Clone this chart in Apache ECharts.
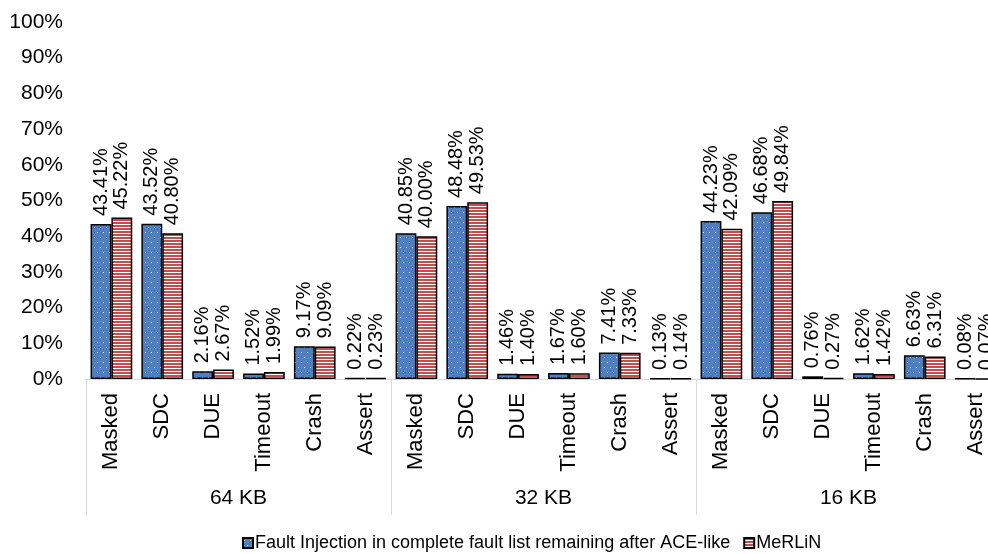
<!DOCTYPE html>
<html>
<head>
<meta charset="utf-8">
<script src="https://cdn.jsdelivr.net/npm/echarts@6/dist/echarts.min.js"></script>
<style>
  html, body { margin: 0; padding: 0; background: #fff; }
  #chart { width: 988px; height: 554px; }
</style>
</head>
<body>
<div id="chart"></div>
<script>
// Outcome classes per cache size (inner axis) and cache sizes (outer axis)
const outcomes = ['Masked', 'SDC', 'DUE', 'Timeout', 'Crash', 'Assert'];
const cacheSizes = ['64 KB', '32 KB', '16 KB'];

// Percentages per cache size, in outcome order
const faultInjection = [
  43.41, 43.52, 2.16, 1.52, 9.17, 0.22,
  40.85, 48.48, 1.46, 1.67, 7.41, 0.13,
  44.23, 46.68, 0.76, 1.62, 6.63, 0.08
];
const merlin = [
  45.22, 40.80, 2.67, 1.99, 9.09, 0.23,
  40.00, 49.53, 1.40, 1.60, 7.33, 0.14,
  42.09, 49.84, 0.27, 1.42, 6.31, 0.07
];

const seriesNames = ['Fault Injection in complete fault list remaining after ACE-like', 'MeRLiN'];

const categories = [];
cacheSizes.forEach(() => outcomes.forEach(o => categories.push(o)));

// Blue fill with small white dots
function dotPattern() {
  const c = document.createElement('canvas');
  c.width = 6; c.height = 10;
  const g = c.getContext('2d');
  g.fillStyle = '#4f7fbf';
  g.fillRect(0, 0, 6, 10);
  g.fillStyle = '#ffffff';
  g.fillRect(1, 2, 1, 1);
  g.fillRect(4, 7, 1, 1);
  return c;
}
// White fill with red horizontal stripes
function stripePattern() {
  const c = document.createElement('canvas');
  c.width = 4; c.height = 3;
  const g = c.getContext('2d');
  g.fillStyle = '#ffffff';
  g.fillRect(0, 0, 4, 3);
  g.fillStyle = '#c0504d';
  g.fillRect(0, 0, 4, 2);
  return c;
}

const FONT = 'Liberation Sans, Arial, sans-serif';

const valueLabel = {
  show: true,
  position: 'top',
  rotate: 90,
  align: 'left',
  verticalAlign: 'middle',
  distance: 8,
  fontSize: 20,
  fontFamily: FONT,
  color: '#000',
  formatter: p => p.value.toFixed(2) + '%'
};

const chart = echarts.init(document.getElementById('chart'));
chart.setOption({
  animation: false,
  backgroundColor: '#fff',
  textStyle: { fontFamily: FONT },
  grid: { left: 86, top: 22, bottom: 175, width: 915, outerBoundsMode: 'none', containLabel: false },
  legend: {
    top: 529,
    left: 237,
    icon: 'rect',
    itemWidth: 10,
    itemHeight: 10,
    itemGap: 13,
    textStyle: { fontSize: 18, color: '#000', fontFamily: FONT, padding: [0, 0, 0, -3] },
    data: seriesNames
  },
  xAxis: [
    {
      type: 'category',
      data: categories,
      axisLine: { lineStyle: { color: '#d9d9d9', width: 1 } },
      axisTick: { show: false },
      axisLabel: { rotate: 90, interval: 0, margin: 14, fontSize: 22, color: '#000', fontFamily: FONT }
    },
    {
      type: 'category',
      data: cacheSizes,
      position: 'bottom',
      axisLine: { show: false },
      axisTick: { show: true, length: 136, lineStyle: { color: '#d9d9d9', width: 1 } },
      axisLabel: { margin: 109, fontSize: 21, color: '#000', fontFamily: FONT }
    }
  ],
  yAxis: {
    type: 'value',
    min: 0,
    max: 100,
    interval: 10,
    axisLine: { show: false },
    axisTick: { show: false },
    splitLine: { show: false },
    axisLabel: { formatter: '{value}%', margin: 23, fontSize: 21, color: '#000', fontFamily: FONT }
  },
  series: [
    {
      name: seriesNames[0],
      type: 'bar',
      xAxisIndex: 0,
      data: faultInjection,
      barGap: '0%',
      barCategoryGap: '18%',
      itemStyle: { color: { image: dotPattern(), repeat: 'repeat' }, borderColor: '#000', borderWidth: 1.5 },
      label: valueLabel
    },
    {
      name: seriesNames[1],
      type: 'bar',
      xAxisIndex: 0,
      data: merlin,
      barGap: '0%',
      barCategoryGap: '18%',
      itemStyle: { color: { image: stripePattern(), repeat: 'repeat' }, borderColor: '#000', borderWidth: 1.5 },
      label: valueLabel
    }
  ]
});
</script>
</body>
</html>
